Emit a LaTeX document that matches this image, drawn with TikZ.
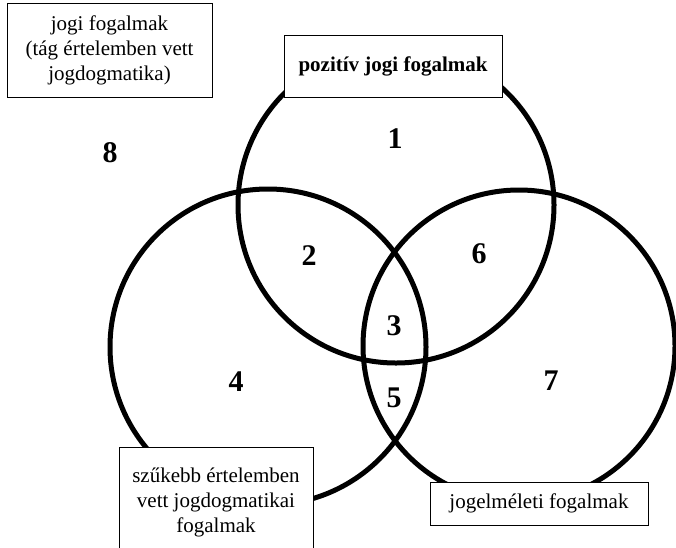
\documentclass[tikz,border=0pt]{standalone}
\usepackage{fontspec}
\setmainfont{Liberation Serif}
\tikzset{
  kor/.style={line width=5pt},
  doboz/.style={draw,line width=1pt,fill=white,align=center,inner sep=0pt,font=\fontsize{21}{25}\selectfont},
  szam/.style={font=\fontsize{30}{32}\selectfont\bfseries}
}
\begin{document}
\begin{tikzpicture}[x=1pt,y=-1pt]
\clip (0,0) rectangle (676,547);
\fill[white] (0,0) rectangle (676,547);
% the three sets
\draw[kor] (396,205) circle (158pt);
\draw[kor] (268,347) circle (158pt);
\draw[kor] (519,346) circle (156pt);
% labels
\node[doboz,minimum width=205pt,minimum height=94pt] (jogi) at (109.5,50) {jogi fogalmak\\(tág értelemben vett\\jogdogmatika)};
\node[doboz,minimum width=218pt,minimum height=62pt,font=\fontsize{21}{25}\selectfont\bfseries] (pozitiv) at (393,66) {pozitív jogi fogalmak};
\node[doboz,minimum width=194pt,minimum height=110pt] (szukebb) at (216,502) {szűkebb értelemben\\vett jogdogmatikai\\fogalmak};
\node[doboz,minimum width=218pt,minimum height=43pt] (elmeleti) at (539,503.5) {jogelméleti fogalmak};
% regions
\node[szam] (r1) at (395,139) {1};
\node[szam] (r2) at (309,256) {2};
\node[szam] (r3) at (394,326) {3};
\node[szam] (r4) at (236,382) {4};
\node[szam] (r5) at (394,398) {5};
\node[szam] (r6) at (479,254) {6};
\node[szam] (r7) at (551,381) {7};
\node[szam] (r8) at (110,153) {8};
\end{tikzpicture}
\end{document}
